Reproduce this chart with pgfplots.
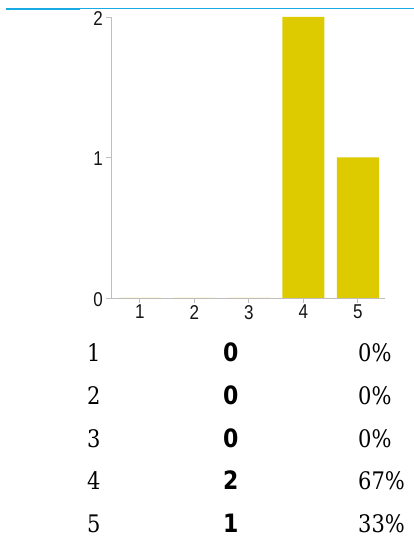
\documentclass[border=0pt]{standalone}
\usepackage{pgfplots}
\pgfplotsset{compat=1.18}
\usepackage{fontspec}
\setmainfont{Liberation Sans}
\newfontfamily\seriffont{DejaVu Serif}
\newfontfamily\boldsans{DejaVu Sans}
\definecolor{barcol}{RGB}{221,203,0}
\definecolor{topblue}{RGB}{26,170,227}
\definecolor{axgray}{RGB}{190,190,190}
\newcommand{\tl}[1]{\scalebox{0.85}[1]{#1}}
\newcommand{\tv}[1]{\scalebox{1}[1.15]{#1}}
\begin{document}
\begin{tikzpicture}[x=1pt,y=1pt]
\path[use as bounding box] (0,0) rectangle (414,550);
\draw[topblue, line width=1pt] (80,541) -- (414,541);
\draw[topblue, line width=2pt] (6,540.5) -- (80,540.5);
\begin{axis}[at={(111pt,252pt)}, anchor=south west, scale only axis,
  width=274pt, height=281pt,
  xmin=0.47, xmax=5.5, ymin=0, ymax=2,
  axis lines=left, axis line style={-, axgray, line width=0.8pt},
  xtick={1,2,3,4,5}, ytick={0,1,2},
  tick style={axgray, line width=0.8pt}, tick align=outside, major tick length=5pt,
  ticklabel style={font=\fontsize{20}{22}\selectfont, text=black!92},
  xticklabel={\tl{\pgfmathprintnumber{\tick}}},
  yticklabel={\tl{\pgfmathprintnumber{\tick}}},
  xticklabel style={inner sep=2pt},
  yticklabel style={inner sep=3pt, yshift=-1.5pt},
  /pgf/number format/assume math mode=true,
  ybar, bar width=42pt, bar shift=0pt,
  clip=false,
]
\addplot[fill=barcol, draw=none] coordinates {(1,0) (2,0) (3,0) (4,2) (5,1)};
\end{axis}
\tikzset{c1/.style={anchor=base west, inner sep=0pt, font=\seriffont\fontsize{21}{24}\selectfont},
         c2/.style={anchor=base west, inner sep=0pt, font=\boldsans\bfseries\fontsize{22}{24}\selectfont}}
\node[c1] at (87,188) {\tv{1}}; \node[c2] at (223,188) {\tv{0}}; \node[c1] at (358,188) {\tv{0\%}};
\node[c1] at (87,145) {\tv{2}}; \node[c2] at (223,145) {\tv{0}}; \node[c1] at (358,145) {\tv{0\%}};
\node[c1] at (87,102) {\tv{3}}; \node[c2] at (223,102) {\tv{0}}; \node[c1] at (358,102) {\tv{0\%}};
\node[c1] at (87,60) {\tv{4}}; \node[c2] at (223,60) {\tv{2}}; \node[c1] at (358,60) {\tv{67\%}};
\node[c1] at (87,17) {\tv{5}}; \node[c2] at (223,17) {\tv{1}}; \node[c1] at (358,17) {\tv{33\%}};
\end{tikzpicture}
\end{document}
